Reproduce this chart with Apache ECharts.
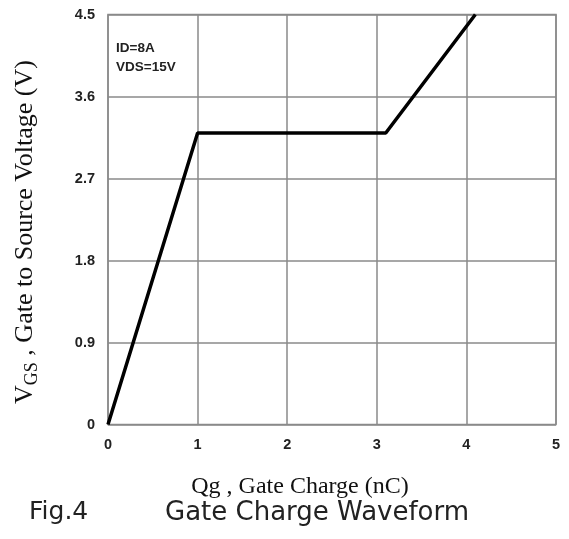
<!DOCTYPE html>
<html><head><meta charset="utf-8">
<script src="https://cdn.jsdelivr.net/npm/echarts@6/dist/echarts.min.js"></script>
<style>html,body{margin:0;padding:0;background:#fff}#c{width:569px;height:539px}</style>
</head><body><div id="c"></div>
<script>
const qg = [0, 1, 3.1, 4.1];
const vgs = [0, 3.2, 3.2, 4.5];
const xTicks = [0, 1, 2, 3, 4, 5];
const yTicks = [0, 0.9, 1.8, 2.7, 3.6, 4.5];
const conditions = ['ID=8A', 'VDS=15V'];

const chart = echarts.init(document.getElementById('c'), null, {renderer: 'canvas'});
const gridColor = '#8a8a8a';
const serif = '"Liberation Serif","Times New Roman",serif';
const tickFont = {fontFamily: '"Liberation Sans Narrow","Liberation Sans",Arial', fontWeight: 'bold', fontSize: 14.5, color: '#222'};
chart.setOption({
  animation: false,
  grid: {left: 108, right: 13, top: 14.5, bottom: 114.5, show: true, borderColor: gridColor, borderWidth: 1.5},
  xAxis: {
    type: 'value', min: 0, max: 5, interval: 1,
    axisLine: {show: false}, axisTick: {show: false},
    splitLine: {show: true, lineStyle: {color: gridColor, width: 1.5}},
    axisLabel: Object.assign({margin: 13, formatter: v => xTicks.includes(v) ? String(v) : ''}, tickFont)
  },
  yAxis: {
    type: 'value', min: 0, max: 4.5, interval: 0.9,
    axisLine: {show: false}, axisTick: {show: false},
    splitLine: {show: true, lineStyle: {color: gridColor, width: 1.5}},
    axisLabel: Object.assign({margin: 13, formatter: v => {
      const t = yTicks.find(y => Math.abs(y - v) < 1e-6);
      return t === undefined ? '' : (t === 0 ? '0' : t.toFixed(1));
    }}, tickFont)
  },
  series: [{
    type: 'line', data: qg.map((x, i) => [x, vgs[i]]), symbol: 'none',
    lineStyle: {color: '#000', width: 3.5}, clip: true
  }],
  graphic: [
    {type: 'text', left: 116, top: 39, style: {text: conditions.join('\n'), fontFamily: '"Liberation Sans Narrow","Liberation Sans",Arial', fontWeight: 'bold', fontSize: 13.5, lineHeight: 19, fill: '#222'}},
    {type: 'text', x: 300, y: 487, style: {text: 'Qg , Gate Charge (nC)', fontFamily: serif, fontSize: 24, fill: '#111', align: 'center', verticalAlign: 'middle'}},
    {type: 'text', x: 25, y: 232, rotation: Math.PI / 2, style: {
      text: '{a|V}{b|GS}{a| , Gate to Source Voltage (V)}', align: 'center', verticalAlign: 'middle',
      rich: {
        a: {fontFamily: serif, fontSize: 26, fill: '#111', verticalAlign: 'bottom'},
        b: {fontFamily: serif, fontSize: 18, fill: '#111', verticalAlign: 'bottom', padding: [0, 0, -3, 0]}
      }
    }},
    {type: 'text', left: 29, top: 500, style: {text: 'Fig.4', fontFamily: '"DejaVu Sans",sans-serif', fontSize: 25, fill: '#222'}},
    {type: 'text', left: 165, top: 500, style: {text: 'Gate Charge Waveform', fontFamily: '"DejaVu Sans",sans-serif', fontSize: 26, fill: '#222'}}
  ]
});
</script></body></html>
